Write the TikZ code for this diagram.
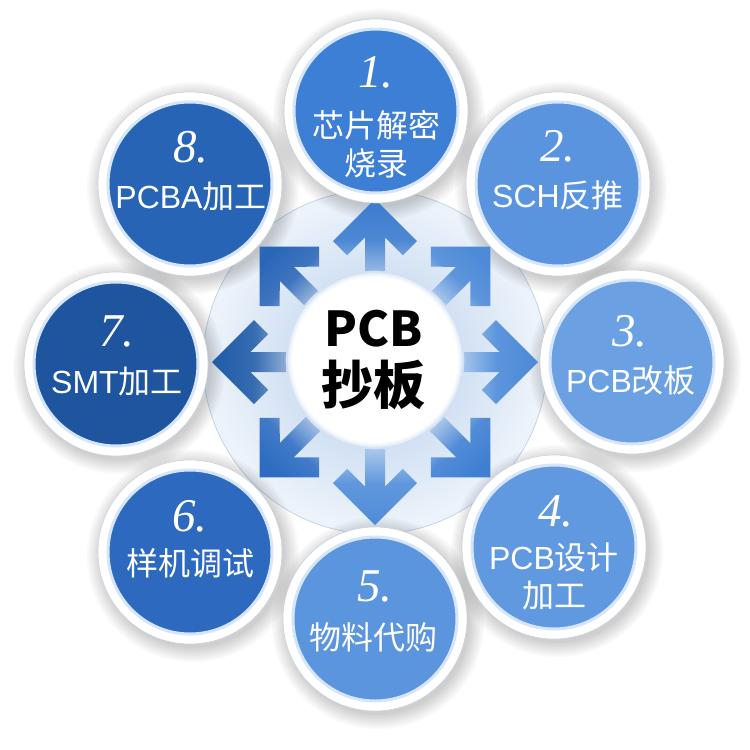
\documentclass[tikz,border=0pt]{standalone}
\usepackage{fontspec}
\newfontfamily\cjk{Noto Sans CJK SC}
\newfontfamily\lat{Liberation Sans}
\newfontfamily\numf{Liberation Serif}
\definecolor{c1}{HTML}{3D7FD4}
\definecolor{c2}{HTML}{5A94DE}
\definecolor{c3}{HTML}{6BA1E3}
\definecolor{c4}{HTML}{6099E0}
\definecolor{c5}{HTML}{5B95DD}
\definecolor{c6}{HTML}{2D69BF}
\definecolor{c7}{HTML}{1F559E}
\definecolor{c8}{HTML}{2764B5}
\definecolor{a1}{HTML}{3A7BCF}
\definecolor{a2}{HTML}{4D8AD8}
\definecolor{a3}{HTML}{4A89D8}
\definecolor{a4}{HTML}{3F7FD2}
\definecolor{a5}{HTML}{4E8CD8}
\definecolor{a6}{HTML}{2D6CC2}
\definecolor{a7}{HTML}{1F5BA8}
\definecolor{a8}{HTML}{2A66B8}
\definecolor{ringin}{HTML}{D0E0F3}
\definecolor{ringout}{HTML}{EDF3FA}
\definecolor{ringline}{HTML}{C4D4E8}
\definecolor{cglow}{HTML}{D3E2F4}
\definecolor{rimglow}{HTML}{D6E5F7}
\definecolor{rimline}{HTML}{CBD3DD}
\pgfdeclareradialshading{ringshade}{\pgfpoint{0bp}{0bp}}{color(0bp)=(ringin); color(12bp)=(ringin); color(24bp)=(ringout); color(25bp)=(ringout); color(50bp)=(ringout)}
\newcommand\rp[2]{({375+(#1)*cos(\ang)-(#2)*sin(\ang)},{362+(#1)*sin(\ang)+(#2)*cos(\ang)})}
\begin{document}
\begin{tikzpicture}[x=1pt,y=-1pt,
  bub/.style={circle, minimum size=164pt, inner sep=0pt, fill=#1, draw=rimglow, line width=3pt},
  numtext/.style={text=white, font=\numf\itshape\fontsize{47}{47}\selectfont, inner sep=0pt},
  cntext/.style={text=white, font=\cjk\fontsize{32}{38}\selectfont, inner sep=0pt, align=center},
  mid/.style={text=black, font=\cjk\bfseries\fontsize{#1}{#1}\selectfont, inner sep=0pt}]
\useasboundingbox (0,0) rectangle (750,750);
\fill[white] (0,0) rectangle (750,750);
% outer ring
\shade[shading=ringshade] (375,362) circle (172);
\draw[ringline, line width=0.8pt] (375,362) circle (172);
% shadows of bubbles
\foreach \x/\y in {376/111, 558/184, 632/362, 554/547, 375/619, 190/552, 116/364, 190/184}{
  \foreach \r in {92,94,...,106} \fill[black, opacity=0.025] (\x+3,\y+4) circle (\r);
}
% arrows
\foreach \ang/\col in {-90/a1,-45/a2,0/a3,45/a4,90/a5,135/a6,180/a7,-135/a8}{
  \pgfmathsetmacro\sa{-\ang-90}
  \shade[top color=\col, bottom color=\col!40!white, middle color=\col!90!white, shading angle=\sa]
    \rp{163}{0} -- \rp{121}{42} -- \rp{106.86}{27.86} -- \rp{124.7}{10} -- \rp{80}{10}
    -- \rp{80}{-10} -- \rp{124.7}{-10} -- \rp{106.86}{-27.86} -- \rp{121}{-42} -- cycle;
}
% centre
\fill[cglow] (375,360) circle (89);
\fill[cglow!50!white] (375,360) circle (87);
\fill[cglow!20!white] (375,360) circle (85);
\fill[white] (375,360) circle (83);
\draw[ringline!70!white, line width=0.6pt] (375,360) circle (89);
\node[mid=48] (pcb) at (374,329) {PCB};
\node[mid=52] (cb) at (373,385) {抄板};
% bubbles
\foreach \x/\y in {376/111, 558/184, 632/362, 554/547, 375/619, 190/552, 116/364, 190/184}{
  \fill[white] (\x,\y) circle (92);
  \draw[rimline, line width=0.6pt] (\x,\y) circle (92);
}
\node[bub=c1] (b1) at (376,111) {};
\node[bub=c2] (b2) at (558,184) {};
\node[bub=c3] (b3) at (632,362) {};
\node[bub=c4] (b4) at (554,547) {};
\node[bub=c5] (b5) at (375,619) {};
\node[bub=c6] (b6) at (190,552) {};
\node[bub=c7] (b7) at (116,364) {};
\node[bub=c8] (b8) at (190,184) {};
% texts
\node[numtext] (n1) at (376,72) {1.};
\node[cntext] (t1) at (376,144) {芯片解密\\烧录};
\node[numtext] (n2) at (558,146) {2.};
\node[cntext] (t2) at (558,195) {{\lat SCH}反推};
\node[numtext] (n3) at (630,331) {3.};
\node[cntext] (t3) at (631,380) {{\lat PCB}改板};
\node[numtext] (n4) at (556,511) {4.};
\node[cntext] (t4) at (554,576) {{\lat PCB}设计\\加工};
\node[numtext] (n5) at (375,586) {5.};
\node[cntext] (t5) at (373,637) {物料代购};
\node[numtext] (n6) at (190,516) {6.};
\node[cntext] (t6) at (190,563) {样机调试};
\node[numtext] (n7) at (117,331) {7.};
\node[cntext] (t7) at (117,382) {{\lat SMT}加工};
\node[numtext] (n8) at (191,147) {8.};
\node[cntext] (t8) at (191,197) {{\lat PCBA}加工};
\end{tikzpicture}
\end{document}
